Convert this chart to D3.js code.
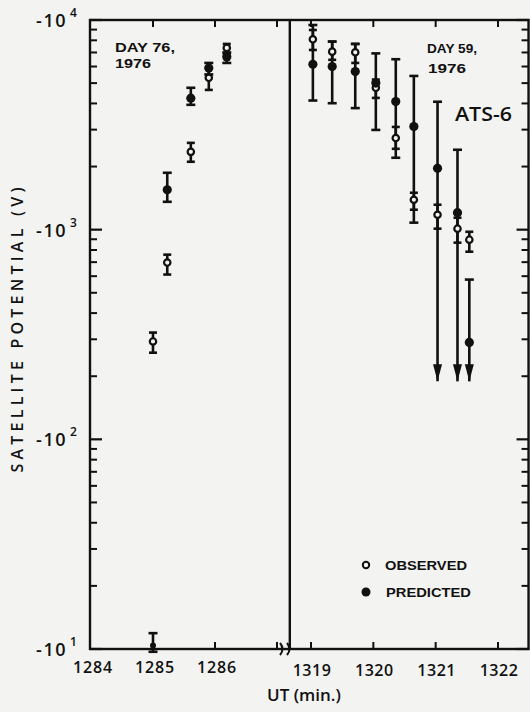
<!DOCTYPE html>
<html><head><meta charset="utf-8">
<script src="https://cdn.jsdelivr.net/npm/d3@7"></script>
<style>
html,body{margin:0;padding:0;background:#f3f3f1;}
svg{display:block;}
text{font-family:"Open Sans","Liberation Sans",Arial,sans-serif;fill:#111;font-weight:600;}
text.ann{font-family:"Liberation Sans",Arial,sans-serif;font-weight:bold;}
</style></head>
<body>
<svg id="c" width="530" height="712"></svg>
<script>
// ---- data (magnitudes of negative potentials, volts) ----
const timesL  = [1285.0, 1285.23, 1285.61, 1285.9, 1286.19];
const obsL    = [293, 697, 2350, 5300, 7360];
const obsLHi  = [323, 760, 2594, 5900, 7690];
const obsLLo  = [259, 611, 2108, 4640, 6900];
const predL   = [10.4, 1549, 4240, 5900, 6670];
const predLHi = [11.9, 1868, 4750, 6240, 7000];
const predLLo = [9.7, 1358, 3940, 5500, 6240];

const timesR  = [1319.03, 1319.34, 1319.71, 1320.04, 1320.36, 1320.65, 1321.03, 1321.35, 1321.54];
const obsR    = [8090, 7063, 7015, 4750, 2735, 1389, 1178, 1011, 896];
const obsRHi  = [8960, 7890, 7690, 5200, 3090, 1500, 1315, 1140, 977];
const obsRLo  = [7196, 6456, 6240, 4250, 2430, 1245, 1011, 867, 785];
const predR   = [6150, 5995, 5675, 5000, 4085, 3105, 1963, 1205, 290];
const predRHi = [9467, 7890, 7690, 6930, 6500, 5410, 4075, 2405, 578];
const predRLo = [4130, 4010, 3800, 2990, 2203, 1080, 189, 189, 189];
const predRArrow = [false, false, false, false, false, false, true, true, true];

const xTicksL = [1284, 1285, 1286];
const xTicksLInner = [1285, 1286, 1287];
const xTicksR = [1319, 1320, 1321, 1322];
const yExps = [1, 2, 3, 4];
const yTickBase = "-10";

// ---- scales ----
const y = d3.scaleLog().domain([10, 10000]).range([649, 20]);
const xL = d3.scaleLinear().domain([1284, 1287]).range([91, 277]);
const xR = d3.scaleLinear().domain([1319, 1322]).range([311, 498]);
const divider = 1318.66;
const rightEnd = 1322.49;

const svg = d3.select("#c");
const ink = "#111";
const bg = "#f3f3f1";
const pLeft = 90, pTop = y(10000), pBottom = y(10), pRight = xR(rightEnd), pMid = xR(divider);

// frame
const g = svg.append("g").attr("stroke", ink).attr("fill", "none");
g.append("rect").attr("x", pLeft).attr("y", pTop).attr("width", pRight - pLeft).attr("height", pBottom - pTop).attr("stroke-width", 2.4);
g.append("line").attr("x1", pMid).attr("x2", pMid).attr("y1", pTop).attr("y2", pBottom).attr("stroke-width", 2.4);

// y ticks (left inside, right inside)
const minor = [];
for (let e = 1; e < 4; e++) for (let m = 2; m <= 9; m++) minor.push(m * Math.pow(10, e));
minor.forEach(v => {
  g.append("line").attr("x1", pLeft).attr("x2", pLeft + 7).attr("y1", y(v)).attr("y2", y(v)).attr("stroke-width", 2);
  g.append("line").attr("x1", pRight).attr("x2", pRight - 7).attr("y1", y(v)).attr("y2", y(v)).attr("stroke-width", 2);
});
yExps.forEach(e => {
  const v = Math.pow(10, e);
  g.append("line").attr("x1", pLeft).attr("x2", pLeft + 12).attr("y1", y(v)).attr("y2", y(v)).attr("stroke-width", 2.2);
  g.append("line").attr("x1", pRight).attr("x2", pRight - 12).attr("y1", y(v)).attr("y2", y(v)).attr("stroke-width", 2.2);
});

// x ticks (top and bottom, inside)
const xt = xTicksLInner.map(t => xL(t)).concat(xTicksR.map(t => xR(t)));
xt.forEach(px => {
  g.append("line").attr("x1", px).attr("x2", px).attr("y1", pBottom).attr("y2", pBottom - 7).attr("stroke-width", 2);
  g.append("line").attr("x1", px).attr("x2", px).attr("y1", pTop).attr("y2", pTop + 7).attr("stroke-width", 2);
});

// axis break marks
[282, 289].forEach(px => {
  g.append("path").attr("d", `M${px - 2},${pBottom - 6} Q${px + 3},${pBottom} ${px - 2},${pBottom + 6}`).attr("stroke-width", 2);
});

// y tick labels
yExps.forEach(e => {
  svg.append("text").attr("x", 67).attr("y", y(Math.pow(10, e)) + 7)
    .attr("text-anchor", "end").attr("font-size", 18).attr("letter-spacing", 1.5).text(yTickBase);
  svg.append("text").attr("x", 70).attr("y", y(Math.pow(10, e)) - 3).attr("font-size", 12).text(e);
});

// x tick labels
xTicksL.forEach(t => svg.append("text").attr("x", xL(t) + 2).attr("y", 673).attr("text-anchor", "middle")
  .attr("font-size", 16).attr("letter-spacing", 0.8).text(t));
xTicksR.forEach(t => svg.append("text").attr("x", xR(t) + 1).attr("y", 676).attr("text-anchor", "middle")
  .attr("font-size", 16).attr("letter-spacing", 0.5).text(t));

// axis titles
svg.append("text").attr("x", 304).attr("y", 701).attr("text-anchor", "middle").attr("font-size", 17).text("UT (min.)");
svg.append("text").attr("transform", "translate(23,330) rotate(-90)").attr("text-anchor", "middle")
  .attr("font-size", 16).attr("textLength", 285).attr("lengthAdjust", "spacing").text("SATELLITE POTENTIAL (V)");

// annotations
const ann = (x, yy, s, len) => svg.append("text").attr("class", "ann").attr("x", x).attr("y", yy).attr("font-size", 12.5)
  .attr("textLength", len).attr("lengthAdjust", "spacingAndGlyphs").text(s);
ann(115, 52, "DAY 76,", 60); ann(115, 68, "1976", 36);
ann(427, 53, "DAY 59,", 50); ann(428, 73, "1976", 38);
svg.append("text").attr("x", 455).attr("y", 121).attr("font-size", 20).attr("font-weight", 500)
  .attr("textLength", 57).attr("lengthAdjust", "spacingAndGlyphs").text("ATS-6");

// legend
svg.append("circle").attr("cx", 366).attr("cy", 565).attr("r", 3.2).attr("fill", bg).attr("stroke", ink).attr("stroke-width", 2);
svg.append("circle").attr("cx", 366).attr("cy", 592).attr("r", 4.5).attr("fill", ink);
ann(385, 570, "OBSERVED", 82); ann(386, 597, "PREDICTED", 85);

// ---- data marks ----
function bars(times, xs, hi, lo, cw, arrows) {
  const b = svg.append("g").attr("stroke", ink).attr("stroke-width", 2.6).attr("fill", "none");
  times.forEach((t, i) => {
    const px = xs(t);
    b.append("line").attr("x1", px).attr("x2", px).attr("y1", y(hi[i])).attr("y2", y(lo[i]));
    b.append("line").attr("x1", px - cw).attr("x2", px + cw).attr("y1", y(hi[i])).attr("y2", y(hi[i]));
    if (arrows && arrows[i]) {
      const ty = y(lo[i]);
      svg.append("path").attr("d", `M${px - 4.5},${ty - 17} L${px + 4.5},${ty - 17} L${px},${ty} Z`).attr("fill", ink);
    } else {
      b.append("line").attr("x1", px - cw).attr("x2", px + cw).attr("y1", y(lo[i])).attr("y2", y(lo[i]));
    }
  });
}
bars(timesL, xL, predLHi, predLLo, 4.5);
bars(timesR, xR, predRHi, predRLo, 4.5, predRArrow);
bars(timesL, xL, obsLHi, obsLLo, 4);
bars(timesR, xR, obsRHi, obsRLo, 4);

function openPts(times, xs, vals) {
  svg.append("g").selectAll("circle").data(times).join("circle")
    .attr("cx", d => xs(d)).attr("cy", (d, i) => y(vals[i])).attr("r", 3.2)
    .attr("fill", bg).attr("stroke", ink).attr("stroke-width", 2.2);
}
function filledPts(times, xs, vals) {
  svg.append("g").selectAll("circle").data(times).join("circle")
    .attr("cx", d => xs(d)).attr("cy", (d, i) => y(vals[i])).attr("r", (d, i) => vals[i] < 20 ? 3 : 4.6).attr("fill", ink);
}
openPts(timesL, xL, obsL);
openPts(timesR, xR, obsR);
filledPts(timesL, xL, predL);
filledPts(timesR, xR, predR);
</script>
</body></html>
